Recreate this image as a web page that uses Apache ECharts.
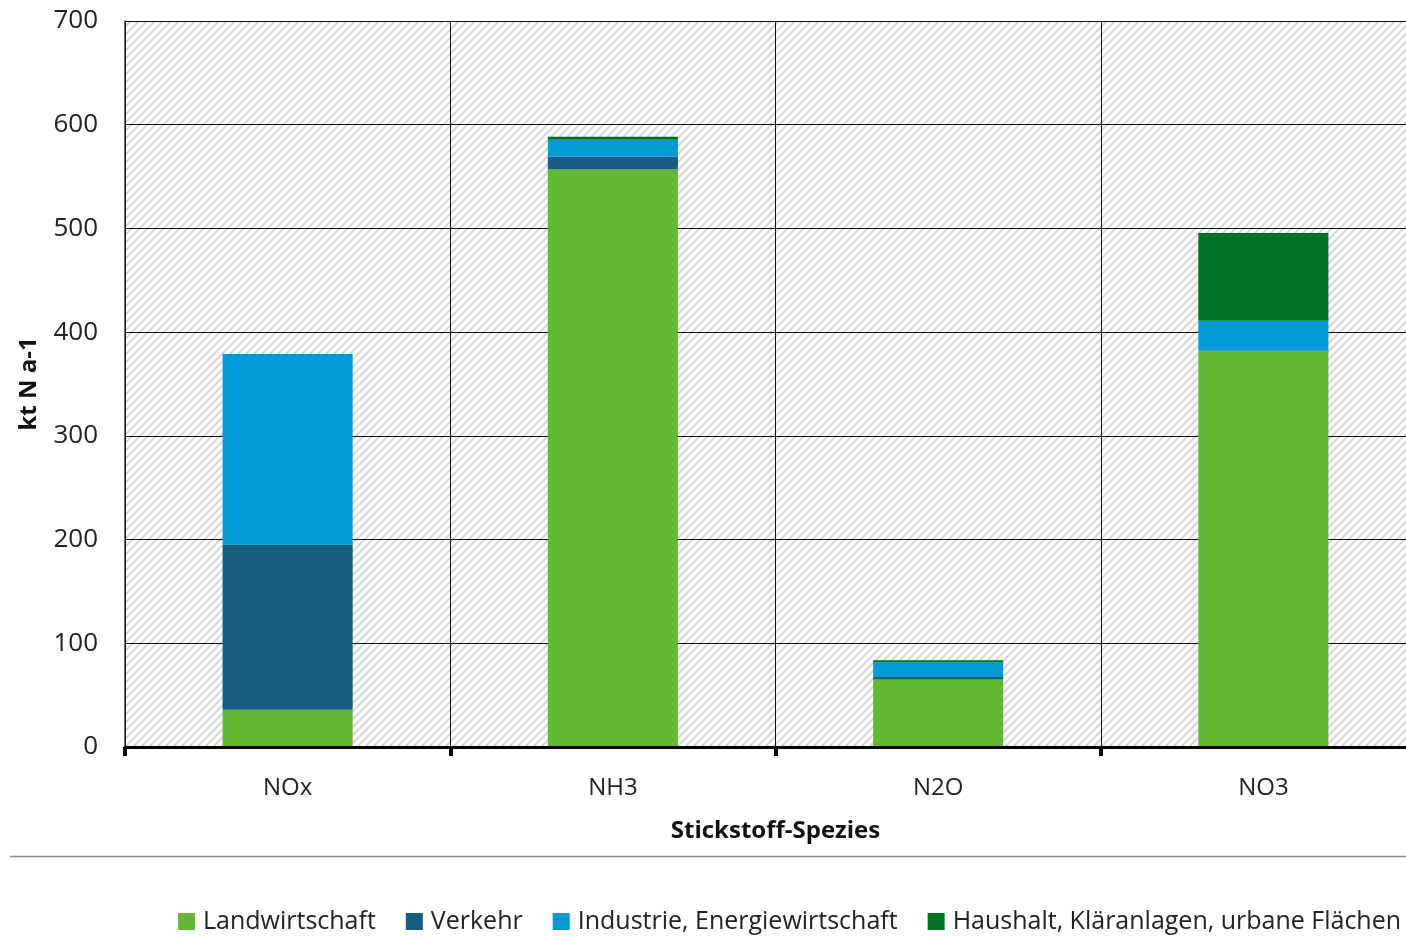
<!DOCTYPE html>
<html>
<head>
<meta charset="utf-8">
<script src="https://cdn.jsdelivr.net/npm/echarts@6/dist/echarts.min.js"></script>
<style>
  html, body { margin: 0; padding: 0; background: #fff; }
  #chart { width: 1406px; height: 936px; }
</style>
</head>
<body>
<div id="chart"></div>
<script>
// Stickstoff-Emissionen nach Spezies und Verursacher (kt N a-1)
const categories = ['NOx', 'NH3', 'N2O', 'NO3'];
const landwirtschaft = [36, 557, 65, 382];
const verkehr = [159, 12, 2.6, 0];
const industrie = [184, 16.5, 14, 29];
const haushalt = [0, 3, 2, 84.5];

const seriesNames = [
  'Landwirtschaft',
  'Verkehr',
  'Industrie, Energiewirtschaft',
  'Haushalt, Kläranlagen, urbane Flächen'
];
const seriesColors = ['#62b733', '#155b82', '#009bd5', '#007327'];
const seriesValues = [landwirtschaft, verkehr, industrie, haushalt];

// diagonal hatch used as plot-area background
function hatchPattern() {
  const s = 8;
  const c = document.createElement('canvas');
  c.width = s; c.height = s;
  const g = c.getContext('2d');
  g.fillStyle = '#ffffff';
  g.fillRect(0, 0, s, s);
  g.strokeStyle = '#d4d4d4';
  g.lineWidth = 2;
  g.beginPath();
  g.moveTo(-1, s + 1); g.lineTo(s + 1, -1);
  g.moveTo(-s - 1, s + 1); g.lineTo(s + 1, -s - 1);
  g.moveTo(-1, 2 * s + 1); g.lineTo(2 * s + 1, -1);
  g.stroke();
  return c;
}

const font = '"Open Sans", "DejaVu Sans", sans-serif';
const chart = echarts.init(document.getElementById('chart'), null, { renderer: 'canvas' });

chart.setOption({
  animation: false,
  backgroundColor: '#ffffff',
  textStyle: { fontFamily: font },
  grid: {
    left: 125, width: 1301, top: 21, height: 726,
    outerBoundsMode: 'none',
    show: true,
    borderWidth: 0,
    backgroundColor: { image: hatchPattern(), repeat: 'repeat' }
  },
  legend: {
    left: 178, top: 909, padding: 0,
    icon: 'rect', itemWidth: 17, itemHeight: 17, itemGap: 30,
    textStyle: { fontFamily: font, fontSize: 25, color: '#222', padding: [0, 0, 0, 3] },
    data: seriesNames
  },
  xAxis: {
    type: 'category',
    data: categories,
    name: 'Stickstoff-Spezies',
    nameLocation: 'middle',
    nameGap: 72,
    nameTextStyle: { fontFamily: font, fontSize: 24, fontWeight: 'bold', color: '#111' },
    axisLine: { show: true, lineStyle: { color: '#000', width: 3 } },
    axisTick: { show: true, length: 9, lineStyle: { color: '#000', width: 4 } },
    axisLabel: { fontFamily: font, fontSize: 24, color: '#222', margin: 29 },
    splitLine: { show: true, lineStyle: { color: '#111', width: 1 } },
    z: 3
  },
  yAxis: {
    type: 'value',
    min: 0, max: 700, interval: 100,
    name: 'kt N a-1',
    nameLocation: 'middle',
    nameGap: 84,
    nameTextStyle: { fontFamily: font, fontSize: 24, fontWeight: 'bold', color: '#111' },
    axisLine: { show: true, lineStyle: { color: '#444', width: 1.5 } },
    axisTick: { show: false },
    axisLabel: { fontFamily: font, fontSize: 26, color: '#222', margin: 27 },
    splitLine: { show: true, lineStyle: { color: '#111', width: 1 } }
  },
  graphic: [{
    type: 'line',
    shape: { x1: 10, y1: 856.5, x2: 1406, y2: 856.5 },
    style: { stroke: '#8a8a8a', lineWidth: 1.5 },
    silent: true
  }],
  series: seriesNames.map((name, i) => ({
    name: name,
    type: 'bar',
    stack: 'total',
    barWidth: '40%',
    data: seriesValues[i],
    itemStyle: { color: seriesColors[i] },
    emphasis: { disabled: true }
  }))
});
</script>
</body>
</html>
